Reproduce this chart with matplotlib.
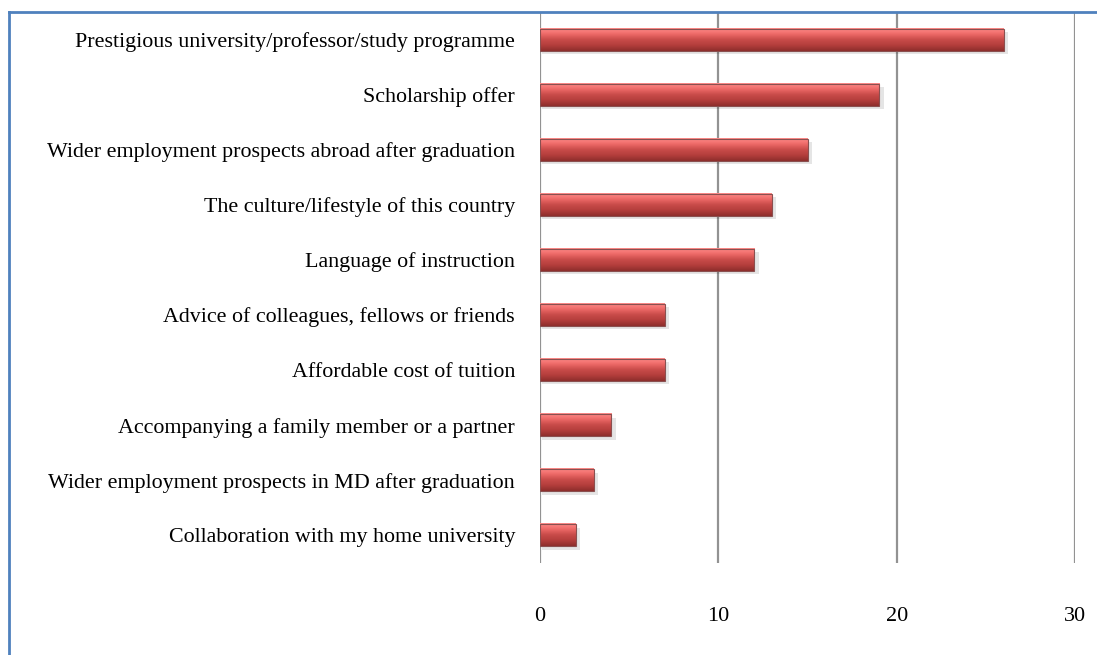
import numpy as np
import matplotlib
matplotlib.use("Agg")
import matplotlib.pyplot as plt
from matplotlib.lines import Line2D
from matplotlib.colors import LinearSegmentedColormap
from matplotlib.patches import Rectangle

# data (top to bottom as shown)
reasons = [
    "Prestigious university/professor/study programme",
    "Scholarship offer",
    "Wider employment prospects abroad after graduation",
    "The culture/lifestyle of this country",
    "Language of instruction",
    "Advice of colleagues, fellows or friends",
    "Affordable cost of tuition",
    "Accompanying a family member or a partner",
    "Wider employment prospects in MD after graduation",
    "Collaboration with my home university",
]
counts = [26, 19, 15, 13, 12, 7, 7, 4, 3, 2]
x_ticks = [0, 10, 20, 30]

plt.rcParams["font.family"] = ["Liberation Serif", "DejaVu Serif"]

fig = plt.figure(figsize=(10.97, 6.55), dpi=100)
ax = fig.add_axes([0.4923, 0.1405, 0.488, 0.8412])

# gradient for the bevelled bar look
cmap = LinearSegmentedColormap.from_list(
    "bar", ["#ff8c8a", "#ee6a68", "#c94c4a", "#b43e3c", "#8e2e2c"])
grad = np.linspace(0, 1, 64).reshape(-1, 1)

h = 0.4
ypos = np.arange(len(counts))
for y, v in zip(ypos, counts):
    # soft shadow
    ax.add_patch(Rectangle((0.1, y - h / 2 + 0.06), v + 0.15, h,
                           facecolor="#000000", alpha=0.10, edgecolor="none",
                           zorder=2))
    ax.imshow(grad, cmap=cmap, aspect="auto",
              extent=[0, v, y + h / 2, y - h / 2], zorder=3)
    ax.add_patch(Rectangle((0, y - h / 2), v, h, facecolor="none",
                           edgecolor="#8a5050", linewidth=0.8, zorder=4))

ax.set_xlim(0, 30)
ax.set_ylim(len(counts) - 0.5, -0.5)
ax.set_xticks(x_ticks)
ax.set_yticks(ypos)
ax.set_yticklabels(reasons, fontsize=15.8)
ax.tick_params(axis="y", length=0, pad=18)
ax.tick_params(axis="x", length=0, pad=32, labelsize=16)
ax.grid(axis="x", color="#929292", linewidth=1.6, zorder=1)
ax.set_axisbelow(True)
for s in ax.spines.values():
    s.set_visible(False)

# blue chart frame (top and left edges)
fig.add_artist(Line2D([9 / 1097, 1], [1 - 12 / 655, 1 - 12 / 655],
                      color="#4f81bd", linewidth=2, transform=fig.transFigure))
fig.add_artist(Line2D([9 / 1097, 9 / 1097], [0, 1 - 12 / 655],
                      color="#4f81bd", linewidth=2, transform=fig.transFigure))

fig.savefig("out.png", dpi=100)
